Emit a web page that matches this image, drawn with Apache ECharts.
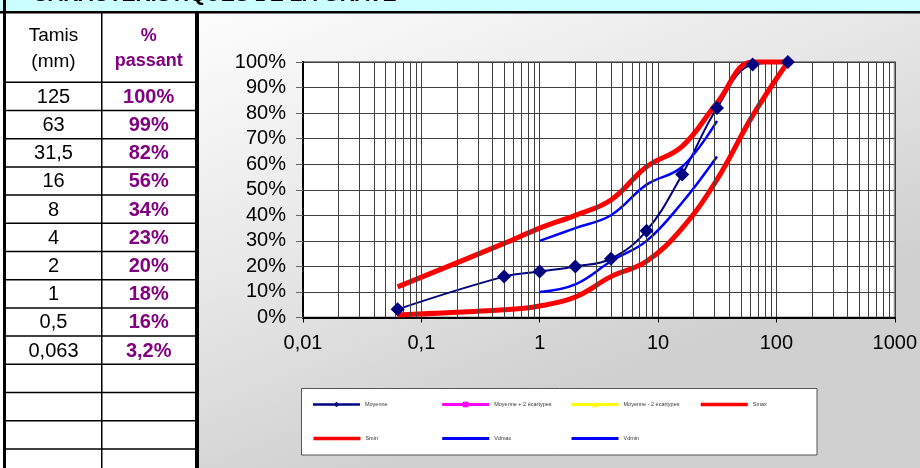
<!DOCTYPE html>
<html><head><meta charset="utf-8">
<script src="https://cdn.jsdelivr.net/npm/echarts@6/dist/echarts.min.js"></script>
<style>html,body{margin:0;padding:0;background:#fff}#c{width:920px;height:468px}</style>
</head><body><div id="c"></div>
<script>
// ---- data ----
const sieveLabels = ['125', '63', '31,5', '16', '8', '4', '2', '1', '0,5', '0,063'];
const sieves = [125, 63, 31.5, 16, 8, 4, 2, 1, 0.5, 0.063];
const passing = [100, 99, 82, 56, 34, 23, 20, 18, 16, 3.2];
const passingLabels = ['100%', '99%', '82%', '56%', '34%', '23%', '20%', '18%', '16%', '3,2%'];
const fuseauX = [0.063, 0.5, 1, 2, 4, 8, 16, 31.5, 63, 125];
const smaxY = [12, 29, 35, 40, 46, 59, 67, 84, 100, 100];
const sminY = [1, 3, 4.5, 8, 16, 22, 35, 54, 79, 100];
const vdX = [1, 2, 4, 8, 16, 31.5];
const vdmaxY = [30, 35, 40, 52, 59, 77];
const vdminY = [10, 13, 22, 30, 45, 63];
const xDecades = [0.01, 0.1, 1, 10, 100, 1000];
const xTickLabels = ['0,01', '0,1', '1', '10', '100', '1000'];
const titleText = '- CARACTERISTIQUES DE LA GRAVE';

const F = '"Liberation Sans", Arial, sans-serif';
const pair = (xs, ys) => xs.map((x, i) => [x, ys[i]]);

// minor log grid lines (2..9 x each decade)
const minorLines = [];
xDecades.slice(0, -1).forEach(d => { for (let k = 2; k <= 9; k++) minorLines.push({ xAxis: +(k * d).toPrecision(3) }); });

// ---- table graphics ----
const g = [];
g.push({ type: 'rect', z: -10, shape: { x: 199, y: 13, width: 721, height: 455 },
  style: { fill: new echarts.graphic.LinearGradient(0, 0, 0.25, 1, [
    { offset: 0, color: '#fdfdfd' }, { offset: 0.55, color: '#e6e6e6' }, { offset: 1, color: '#d0d0d0' }]) } });
g.push({ type: 'rect', shape: { x: 0, y: 0, width: 920, height: 11.5 }, style: { fill: '#ccffff' } });
g.push({ type: 'text', x: 20, y: -4.8, style: { text: titleText, font: 'bold 21px ' + F, fill: '#000', verticalAlign: 'middle' } });
g.push({ type: 'rect', shape: { x: 0, y: 11, width: 920, height: 2.5 }, style: { fill: '#000' } });
g.push({ type: 'rect', shape: { x: 3, y: 0, width: 3, height: 468 }, style: { fill: '#000' } });
g.push({ type: 'rect', shape: { x: 101, y: 13, width: 1.5, height: 455 }, style: { fill: '#000' } });
g.push({ type: 'rect', shape: { x: 195, y: 11, width: 4, height: 457 }, style: { fill: '#000' } });
const row0 = 82.3, rowH = 28.2;
for (let i = 0; i < 14; i++) {
  g.push({ type: 'rect', shape: { x: 6, y: row0 + rowH * i - 0.75, width: 189, height: 1.5 }, style: { fill: '#000' } });
}
const c1 = 53.5, c2 = 148.7;
g.push({ type: 'text', x: c1, y: 35.5, style: { text: 'Tamis', font: '19px ' + F, fill: '#000', align: 'center', verticalAlign: 'middle' } });
g.push({ type: 'text', x: c1, y: 61.5, style: { text: '(mm)', font: '19px ' + F, fill: '#000', align: 'center', verticalAlign: 'middle' } });
g.push({ type: 'text', x: c2, y: 36.5, style: { text: '%', font: 'bold 18px ' + F, fill: '#800080', align: 'center', verticalAlign: 'middle' } });
g.push({ type: 'text', x: c2, y: 61, style: { text: 'passant', font: 'bold 18px ' + F, fill: '#800080', align: 'center', verticalAlign: 'middle' } });
sieveLabels.forEach((s, i) => {
  const cy = row0 + rowH * i + rowH / 2 + 0.8;
  g.push({ type: 'text', x: c1, y: cy, style: { text: s, font: '20px ' + F, fill: '#000', align: 'center', verticalAlign: 'middle' } });
  g.push({ type: 'text', x: c2, y: cy, style: { text: passingLabels[i], font: 'bold 20px ' + F, fill: '#800080', align: 'center', verticalAlign: 'middle' } });
});
// legend box
g.push({ type: 'rect', z: 1, shape: { x: 301.5, y: 388.5, width: 515.5, height: 66.5 }, style: { fill: '#fff', stroke: '#555', lineWidth: 1 } });

// ---- legends ----
const legItems = [
  { name: 'Moyenne', left: 311.7, row: 0, lw: 2.5, sym: true },
  { name: 'Moyenne + 2 écartypes', left: 440.7, row: 0, lw: 3, sym: true },
  { name: 'Moyenne - 2 écartypes', left: 570, row: 0, lw: 3, sym: true },
  { name: 'Smax', left: 699, row: 0, lw: 3.5, sym: false },
  { name: 'Smin', left: 311.7, row: 1, lw: 3.5, sym: false },
  { name: 'Vdmax', left: 440.7, row: 1, lw: 3, sym: false },
  { name: 'Vdmin', left: 570, row: 1, lw: 3, sym: false }
];
const rowY = [405, 439];
const legends = legItems.map(it => ({
  left: it.left, top: rowY[it.row] - 3.5, padding: 0, itemWidth: 47, itemHeight: 7,
  selectedMode: false, z: 5,
  textStyle: { fontSize: 5.5, color: '#333', fontFamily: F },
  data: [{ name: it.name, lineStyle: { width: it.lw }, itemStyle: { opacity: it.sym ? 1 : 0, borderWidth: 0 } }]
}));

const option = {
  animation: false,
  backgroundColor: '#fff',
  textStyle: { fontFamily: F },
  grid: { left: 303, top: 62, width: 594, height: 255.5, show: true, backgroundColor: '#fff', borderColor: '#8c8c8c', borderWidth: 2 },
  xAxis: {
    type: 'log', logBase: 10, min: xDecades[0], max: xDecades[xDecades.length - 1],
    axisLine: { show: true, onZero: false, lineStyle: { color: '#000', width: 2 } },
    axisTick: { show: true, length: 5, lineStyle: { color: '#000' } },
    axisLabel: { fontSize: 20, color: '#000', margin: 16, fontFamily: F,
      formatter: v => xTickLabels[Math.round(Math.log10(v)) + 2] },
    splitLine: { show: true, lineStyle: { color: '#404040', width: 1 } }
  },
  yAxis: {
    type: 'value', min: 0, max: 100, interval: 10,
    axisLine: { show: true, lineStyle: { color: '#000', width: 2 } },
    axisTick: { show: true, length: 7, lineStyle: { color: '#666' } },
    axisLabel: { fontSize: 20, color: '#000', margin: 17, fontFamily: F, formatter: v => v + '%' },
    splitLine: { show: true, lineStyle: { color: '#404040', width: 1 } }
  },
  legend: legends,
  graphic: { elements: g },
  series: [
    { type: 'line', name: 'grid', data: [], z: 1, silent: true,
      markLine: { silent: true, symbol: ['none', 'none'], label: { show: false }, animation: false,
        lineStyle: { color: '#404040', width: 1, type: 'solid' }, emphasis: { disabled: true }, data: minorLines } },
    { type: 'line', name: 'Moyenne', data: pair(sieves, passing), smooth: 0.4, showSymbol: false, symbol: 'diamond',
      color: '#000080', lineStyle: { color: '#000080', width: 2 }, z: 2, clip: false },
    { type: 'line', name: 'Moyenne + 2 écartypes', data: [], symbol: 'rect', color: '#ff00ff', lineStyle: { width: 3 }, z: 2 },
    { type: 'line', name: 'Moyenne - 2 écartypes', data: [], symbol: 'triangle', color: '#ffff00', lineStyle: { width: 3 }, z: 2 },
    { type: 'line', name: 'Smax', data: pair(fuseauX, smaxY), smooth: 0.4, showSymbol: false, symbol: 'none',
      color: '#ff0000', lineStyle: { color: '#ff0000', width: 5 }, z: 3, clip: false },
    { type: 'line', name: 'Smin', data: pair(fuseauX, sminY), smooth: 0.4, showSymbol: false, symbol: 'none',
      color: '#ff0000', lineStyle: { color: '#ff0000', width: 5 }, z: 3, clip: false },
    { type: 'line', name: 'Vdmax', data: pair(vdX, vdmaxY), smooth: 0.4, showSymbol: false, symbol: 'none',
      color: '#0000ff', lineStyle: { color: '#0000ff', width: 2.5 }, z: 4, clip: false },
    { type: 'line', name: 'Vdmin', data: pair(vdX, vdminY), smooth: 0.4, showSymbol: false, symbol: 'none',
      color: '#0000ff', lineStyle: { color: '#0000ff', width: 2.5 }, z: 4, clip: false },
    { type: 'scatter', name: 'MoyennePts', data: pair(sieves, passing), symbol: 'diamond', symbolSize: 14,
      itemStyle: { color: '#000080', opacity: 1 }, z: 6, clip: false }
  ]
};
const chart = echarts.init(document.getElementById('c'));
chart.setOption(option);
</script></body></html>
